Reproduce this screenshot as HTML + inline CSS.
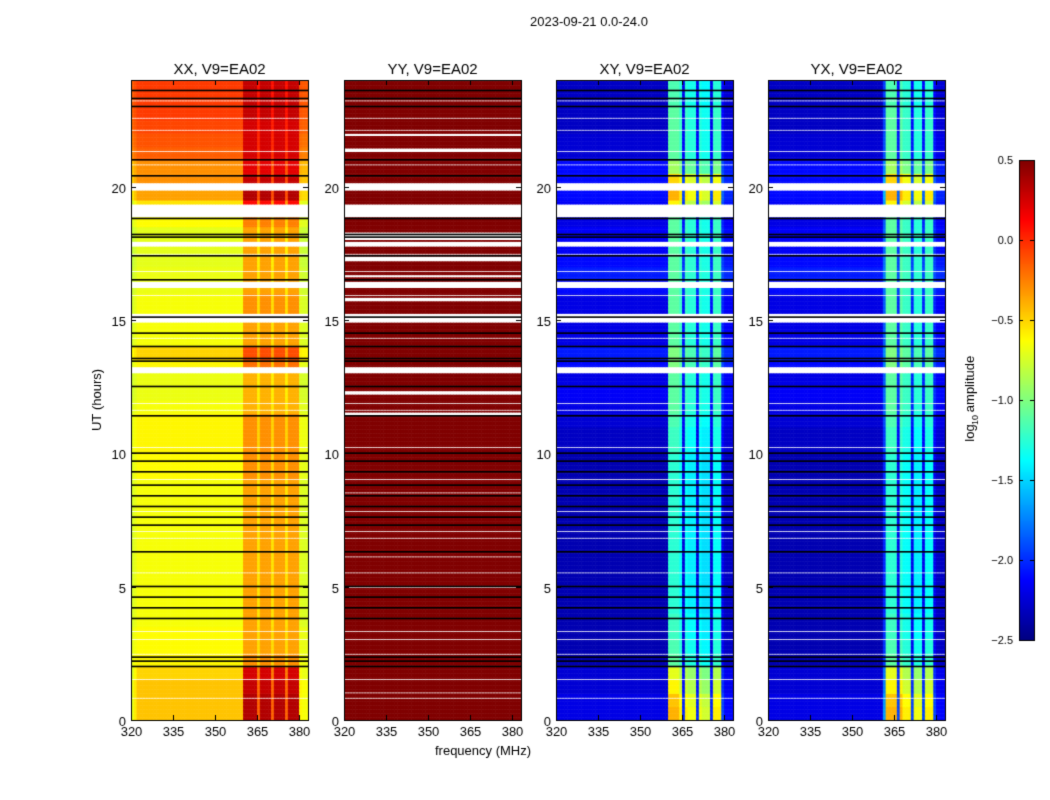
<!DOCTYPE html>
<html><head><meta charset="utf-8">
<style>
body{margin:0;background:#fff;width:1050px;height:800px;overflow:hidden;font-family:"Liberation Sans",sans-serif;}
#root{position:relative;width:1050px;height:800px;}
canvas{position:absolute;left:0;top:0;}
</style></head><body>
<div id="root">
<canvas id="c" width="1050" height="800"></canvas>
</div>
<script>
// ---- data ----
const panelTitles = ["XX, V9=EA02","YY, V9=EA02","XY, V9=EA02","YX, V9=EA02"];
const xTicks = [320,335,350,365,380];
const yTicks = [0,5,10,15,20];
const cbTicks = [0.5,0.0,-0.5,-1.0,-1.5,-2.0,-2.5];
// background level per 0.5 h bin (48 bins), log10 amplitude
const bgXX = [-0.45,-0.45,-0.45,-0.5,-0.6,-0.62,-0.62,-0.65,-0.65,-0.65,-0.65,-0.65,-0.65,-0.65,-0.65,-0.65,-0.65,-0.65,-0.62,-0.62,-0.6,-0.6,-0.6,-0.65,-0.68,-0.68,-0.6,-0.5,-0.65,-0.65,-0.65,-0.65,-0.68,-0.68,-0.7,-0.7,-0.7,-0.62,-0.55,-0.35,-0.3,-0.3,-0.15,-0.12,-0.08,-0.05,-0.05,-0.05];
const bandXX = [0.35,0.35,0.3,0.25,-0.3,-0.35,-0.35,-0.35,-0.35,-0.35,-0.35,-0.35,-0.35,-0.35,-0.35,-0.35,-0.35,-0.35,-0.3,-0.3,-0.3,-0.3,-0.3,-0.4,-0.4,-0.4,-0.2,-0.1,-0.35,-0.35,-0.3,-0.3,-0.35,-0.35,-0.35,-0.35,-0.35,-0.25,0.1,0.35,0.3,0.2,0.25,0.25,0.25,0.3,0.3,0.3];
const bgYY = Array(48).fill(0.6);
const bandYY = Array(48).fill(0.6);
const bgXY = [-2.2,-2.2,-2.25,-2.25,-2.35,-2.35,-2.35,-2.35,-2.35,-2.35,-2.35,-2.35,-2.35,-2.35,-2.35,-2.35,-2.35,-2.35,-2.35,-2.35,-2.3,-2.3,-2.25,-2.2,-2.15,-2.2,-2.1,-2.05,-2.2,-2.2,-2.2,-2.2,-2.1,-2.05,-2.1,-2.15,-2.15,-2.2,-2.15,-2.1,-2.1,-2.1,-2.25,-2.25,-2.3,-2.3,-2.3,-2.3];
const bandXY = [-0.4,-0.45,-0.6,-0.7,-1.1,-1.15,-1.2,-1.2,-1.25,-1.25,-1.25,-1.25,-1.25,-1.25,-1.25,-1.25,-1.25,-1.25,-1.25,-1.25,-1.2,-1.2,-1.15,-1.1,-1.1,-1.1,-1.0,-1.0,-1.1,-1.1,-1.1,-1.1,-1.1,-1.1,-1.1,-1.1,-1.1,-1.1,-0.6,-0.4,-0.5,-0.9,-1.1,-1.1,-1.1,-1.1,-1.15,-1.15];
const bgYX = bgXY.map(v=>v);
const bandYX = bandXY.map(v=>v);
// weight of band per 1-MHz channel (320..383)
const chanWeightXX = [-0.3,-0.15,0,0,0,0,0,0,0,0,0,0,0,0,0,0,0,0,0,0,0,0,0,0,0,0,0,0,0,0,0,0,0,0,0,0,0,0,0,0,1,1,1,1,1,0.35,1,1,1,1,0.35,1,1,1,1,0.35,1,1,1,1,-0.2,-0.25,-0.25,-0.25];
const chanWeightXY = [0,0,0,0,0,0,0,0,0,0,0,0,0,0,0,0,0,0,0,0,0,0,0,0,0,0,0,0,0,0,0,0,0,0,0,0,0,0,0,0,1,1,1,1,0.9,0.1,0.9,0.85,0.85,0.85,0.1,0.85,0.8,0.8,0.8,0.1,0.9,0.9,0.9,0.15,0.05,0.05,0.05,0.05];
const chanWeightYX = [0,0,0,0,0,0,0,0,0,0,0,0,0,0,0,0,0,0,0,0,0,0,0,0,0,0,0,0,0,0,0,0,0,0,0,0,0,0,0,0,0,0.3,1,1,1,1,0.15,1,0.9,0.9,0.9,0.15,0.85,0.85,0.85,0.15,0.9,0.9,0.9,0.15,0.05,0.05,0.05,0.05];
// flagged (white) time ranges in hours
const gapsCommon = [[19.87,20.17],[18.86,19.35],[17.75,17.95],[16.2,16.45],[14.9,15.25],[13.0,13.25],[0.78,0.84],[1.48,1.54],[2.45,2.5],[3.0,3.05],[3.3,3.35],[5.5,5.55],[6.8,6.85],[7.05,7.1],[7.8,7.85],[9.0,9.05],[10.2,10.25],[11.6,11.66],[11.85,11.9],[14.3,14.36],[15.9,15.96],[16.8,16.86],[17.45,17.5],[20.8,20.86],[21.3,21.36],[22.1,22.16],[22.55,22.6],[23.2,23.26]];
const gapsYYExtra = [[21.3,21.45],[21.9,22.0],[18.0,18.3],[17.2,17.4],[16.6,16.7],[15.7,15.85],[12.2,12.35],[11.4,11.55],[8.5,8.55],[6.1,6.15],[4.95,5.0],[1.0,1.05]];
// black (zero) lines in hours
const blackLines = [2.0,2.2,2.35,3.8,4.2,4.6,5.0,6.3,7.3,7.6,8.0,8.4,8.8,9.3,9.7,10.0,11.4,12.5,13.45,13.55,14.0,14.5,15.1,16.5,17.4,18.1,18.2,18.8,20.4,21.0,23.0,23.3,23.6];

// ---- layout ----
const panels = [
 {x0:131,bg:bgXX,band:bandXX,w:chanWeightXX,gaps:gapsCommon},
 {x0:344,bg:bgYY,band:bandYY,w:chanWeightXX,gaps:gapsCommon.concat(gapsYYExtra)},
 {x0:556,bg:bgXY,band:bandXY,w:chanWeightXY,gaps:gapsCommon},
 {x0:768,bg:bgYX,band:bandYX,w:chanWeightYX,gaps:gapsCommon}];
const PW=177, Y0=80, Y1=720, FMIN=320, FMAX=383.2;
function xs(p,f){return p.x0+(f-FMIN)/(FMAX-FMIN)*PW;}
function ys(h){return Y1-h/24*(Y1-Y0);}
function jet(v){
  let x=(v+2.5)/3; x=Math.max(0,Math.min(1,x));
  const c=t=>Math.round(255*Math.max(0,Math.min(1,1.5-Math.abs(4*x-t))));
  return `rgb(${c(3)},${c(2)},${c(1)})`;
}
const cv=document.getElementById('c'), ctx=cv.getContext('2d');
ctx.fillStyle='#fff';ctx.fillRect(0,0,1050,800);
const DT=0.05;
panels.forEach((p,pi)=>{
  for(let r=0;r<480;r++){
    const t=(r+0.5)*DT;
    if(p.gaps.some(g=>t>=g[0]&&t<=g[1])) continue;
    const b=Math.min(47,Math.floor(t/0.5));
    for(let c=0;c<64;c++){
      const v=p.bg[b]+p.w[c]*(p.band[b]-p.bg[b]);
      ctx.fillStyle=jet(v);
      const xa=xs(p,FMIN+c), xb=Math.min(p.x0+PW,xs(p,FMIN+c+1));
      const ya=ys(r*DT+DT), yb=ys(r*DT);
      ctx.fillRect(xa,ya,xb-xa+0.5,yb-ya+0.5);
    }
  }
  ctx.fillStyle='#000';
  blackLines.forEach(h=>{ctx.fillRect(p.x0,ys(h)-1,PW,1.6);});
  ctx.strokeStyle='#000';ctx.lineWidth=1;
  ctx.strokeRect(p.x0+0.5,Y0+0.5,PW,Y1-Y0);
  ctx.font='13px "Liberation Sans", sans-serif';ctx.fillStyle='#000';
  xTicks.forEach(f=>{const x=Math.round(xs(p,f))+0.5;
    ctx.beginPath();ctx.moveTo(x,Y1);ctx.lineTo(x,Y1-5);ctx.moveTo(x,Y0);ctx.lineTo(x,Y0+5);ctx.stroke();
    ctx.textAlign='center';ctx.fillText(String(f),x,Y1+16);});
  yTicks.forEach(h=>{const y=Math.round(ys(h))+0.5;
    ctx.beginPath();ctx.moveTo(p.x0,y);ctx.lineTo(p.x0+5,y);ctx.moveTo(p.x0+PW,y);ctx.lineTo(p.x0+PW-5,y);ctx.stroke();
    ctx.textAlign='right';ctx.fillText(String(h),p.x0-5,y+5);});
  ctx.font='15px "Liberation Sans", sans-serif';ctx.textAlign='center';
  ctx.fillText(panelTitles[pi],p.x0+PW/2,Y0-6);
});
// colorbar
const CX=1019,CW=15,CT=160,CB=640;
for(let y=CT;y<CB;y++){const v=0.5-(y-CT)/(CB-CT)*3;ctx.fillStyle=jet(v);ctx.fillRect(CX,y,CW,1);}
ctx.strokeStyle='#000';ctx.strokeRect(CX+0.5,CT+0.5,CW,CB-CT);
ctx.font='11px "Liberation Sans", sans-serif';ctx.textAlign='right';ctx.fillStyle='#000';
cbTicks.forEach(v=>{const y=CT+(0.5-v)/3*(CB-CT);
  ctx.beginPath();ctx.moveTo(CX,y+0.5);ctx.lineTo(CX+4,y+0.5);ctx.moveTo(CX+CW,y+0.5);ctx.lineTo(CX+CW-4,y+0.5);ctx.stroke();
  ctx.fillText(v.toFixed(1).replace('-','\u2212'),1013,y+4);});
// texts
ctx.textAlign='center';
ctx.font='13px "Liberation Sans", sans-serif';
ctx.fillText('2023-09-21 0.0-24.0',589,26);
ctx.fillText('frequency (MHz)',483,755);
ctx.save();ctx.translate(101,400);ctx.rotate(-Math.PI/2);ctx.fillText('UT (hours)',0,0);ctx.restore();
ctx.save();ctx.translate(974,400);ctx.rotate(-Math.PI/2);ctx.fillText('log',-33,0);ctx.font='9px "Liberation Sans", sans-serif';ctx.fillText('10',-20,4);ctx.font='13px "Liberation Sans", sans-serif';ctx.fillText('amplitude',16,0);ctx.restore();
</script>
</body></html>
